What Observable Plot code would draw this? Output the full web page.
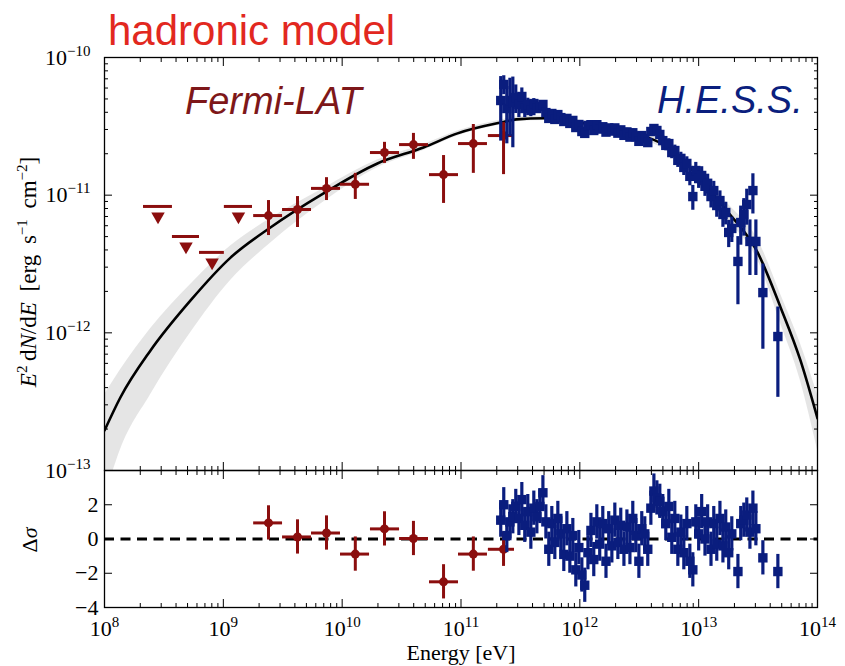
<!DOCTYPE html>
<html>
<head>
<meta charset="utf-8">
<script src="https://cdn.jsdelivr.net/npm/d3@7"></script>
<script src="https://cdn.jsdelivr.net/npm/@observablehq/plot@0.6"></script>
<style>
  html, body { margin: 0; padding: 0; background: #fff; }
  #chart { position: relative; width: 845px; height: 666px; overflow: hidden; background: #fff; }
  #chart svg { position: absolute; left: 0; }
  .ann { position: absolute; white-space: nowrap; line-height: 1; }
  .title { left: 108px; top: 7px; font: 42px "Liberation Sans", Arial, sans-serif; color: #e2281f; }
  .fermi { left: 185px; top: 80px; font: italic 38px "Liberation Sans", Arial, sans-serif; color: #7e1719; }
  .hess { left: 657px; top: 79px; font: italic 38px "Liberation Sans", Arial, sans-serif; color: #0b1f7e; }
  .serif { font-family: "Liberation Serif", "DejaVu Serif", serif; font-size: 22px; color: #000; }
  .ylab { left: 28px; top: 272px; font-size: 23px; word-spacing: 5px; transform: translate(-50%, -50%) rotate(-90deg); }
  .dlab { left: 30px; top: 540px; transform: translate(-50%, -50%) rotate(-90deg); }
  .xlab { left: 461px; top: 642px; transform: translateX(-50%); }
  .serif sup { font-size: 0.65em; vertical-align: 0.55em; line-height: 0; }
</style>
</head>
<body>
<div id="chart">
  <div class="ann title">hadronic model</div>
</div>
<script>
// ---------------- data ----------------
// Fermi-LAT flux points (E in eV, E^2 dN/dE in erg s^-1 cm^-2)
const fermiE   = [2.40e9, 4.21e9, 7.38e9, 1.29e10, 2.27e10, 3.98e10, 7.13e10, 1.27e11, 2.28e11];
const fermiElo = [1.80e9, 3.15e9, 5.52e9, 9.68e9, 1.73e10, 3.04e10, 5.43e10, 9.53e10, 1.70e11];
const fermiEhi = [3.15e9, 5.52e9, 9.68e9, 1.70e10, 3.04e10, 5.33e10, 9.53e10, 1.67e11, 2.82e11];
const fermiF   = [7.11e-12, 7.87e-12, 1.12e-11, 1.20e-11, 2.04e-11, 2.33e-11, 1.41e-11, 2.37e-11, 2.71e-11];
const fermiFlo = [5.09e-12, 5.82e-12, 9.14e-12, 9.31e-12, 1.70e-11, 1.82e-11, 8.71e-12, 1.44e-11, 1.41e-11];
const fermiFhi = [9.14e-12, 9.77e-12, 1.34e-11, 1.44e-11, 2.42e-11, 2.81e-11, 1.94e-11, 3.26e-11, 3.37e-11];
const fermiRes = [0.94, 0.12, 0.35, -0.88, 0.59, 0.03, -2.5, -0.88, -0.6];

// Fermi-LAT upper limits
const ulE   = [2.82e8, 4.85e8, 8.04e8, 1.34e9];
const ulElo = [2.13e8, 3.73e8, 6.30e8, 1.02e9];
const ulEhi = [3.73e8, 6.30e8, 1.02e9, 1.76e9];
const ulF   = [8.28e-12, 5.01e-12, 3.84e-12, 8.28e-12];

// H.E.S.S. flux points
const hessE = [
  2.16e11, 2.29e11, 2.43e11, 2.58e11, 2.73e11, 2.89e11, 3.07e11, 3.25e11, 3.44e11, 3.65e11,
  3.87e11, 4.10e11, 4.35e11, 4.61e11, 4.89e11, 5.18e11, 5.48e11, 5.81e11, 6.16e11, 6.53e11,
  6.92e11, 7.33e11, 7.78e11, 8.24e11, 8.73e11, 9.25e11, 9.81e11, 1.04e12, 1.10e12, 1.17e12,
  1.24e12, 1.31e12, 1.39e12, 1.47e12, 1.56e12, 1.66e12, 1.75e12, 1.86e12, 1.97e12, 2.09e12,
  2.21e12, 2.35e12, 2.49e12, 2.64e12, 2.79e12, 2.96e12, 3.14e12, 3.32e12, 3.52e12, 3.73e12,
  3.96e12, 4.20e12, 4.45e12, 4.71e12, 4.99e12, 5.29e12, 5.61e12, 5.94e12, 6.30e12, 6.68e12,
  7.08e12, 7.50e12, 7.95e12, 8.43e12, 8.93e12, 9.46e12, 1.00e13, 1.06e13, 1.13e13, 1.19e13,
  1.27e13, 1.34e13, 1.42e13, 1.51e13, 1.60e13, 1.69e13, 1.79e13, 1.90e13, 2.14e13, 2.26e13,
  2.40e13, 2.54e13, 2.70e13, 2.86e13, 3.03e13, 3.47e13, 4.64e13];
const hessF = [
  4.87e-11, 6.37e-11, 4.26e-11, 4.87e-11, 4.71e-11, 5.12e-11, 4.56e-11, 5.21e-11, 4.26e-11, 4.56e-11,
  4.12e-11, 4.63e-11, 4.26e-11, 4.41e-11, 4.56e-11, 3.98e-11, 3.61e-11, 3.92e-11, 3.55e-11, 3.85e-11,
  3.66e-11, 3.43e-11, 3.61e-11, 3.32e-11, 3.49e-11, 3.10e-11, 3.26e-11, 2.90e-11, 2.81e-11, 3.21e-11,
  3.25e-11, 2.95e-11, 3.25e-11, 3.02e-11, 3.14e-11, 2.87e-11, 3.08e-11, 2.92e-11, 3.08e-11, 2.82e-11,
  2.98e-11, 2.72e-11, 2.88e-11, 2.64e-11, 2.84e-11, 2.66e-11, 2.46e-11, 2.71e-11, 2.58e-11, 2.41e-11,
  2.90e-11, 3.05e-11, 2.95e-11, 2.76e-11, 2.49e-11, 2.30e-11, 2.37e-11, 2.04e-11, 2.11e-11, 1.79e-11,
  1.85e-11, 1.59e-11, 1.70e-11, 1.37e-11, 9.77e-12, 1.51e-11, 1.32e-11, 1.39e-11, 1.16e-11, 1.22e-11,
  9.77e-12, 1.08e-11, 8.41e-12, 9.14e-12, 7.24e-12, 7.48e-12, 5.36e-12, 5.73e-12, 3.30e-12, 6.33e-12,
  7.24e-12, 8.55e-12, 4.61e-12, 1.08e-11, 4.61e-12, 1.96e-12, 9.4e-13];
const hessErr = [
  2.4e-11, 1.0e-11, 1.9e-11, 2.2e-11, 2.5e-11, 1.2e-11, 9e-12, 8e-12, 6e-12, 5e-12,
  4e-12, 4e-12, 3e-12, 3e-12, 3e-12, 2.5e-12, 2e-12, 2e-12, 2e-12, 2e-12,
  1.9e-12, 1.9e-12, 1.9e-12, 1.8e-12, 1.8e-12, 1.8e-12, 1.8e-12, 1.8e-12, 1.8e-12, 1.8e-12,
  1.8e-12, 1.8e-12, 1.8e-12, 1.8e-12, 1.8e-12, 1.8e-12, 1.8e-12, 1.8e-12, 1.8e-12, 1.8e-12,
  1.8e-12, 1.8e-12, 1.8e-12, 1.8e-12, 1.8e-12, 1.8e-12, 1.8e-12, 1.8e-12, 1.8e-12, 1.8e-12,
  2e-12, 2e-12, 2e-12, 2e-12, 2e-12, 2e-12, 2e-12, 2e-12, 2e-12, 2e-12,
  2e-12, 2e-12, 2e-12, 2e-12, 2e-12, 2.2e-12, 2e-12, 2.2e-12, 1.8e-12, 2e-12,
  1.7e-12, 1.8e-12, 1.5e-12, 1.6e-12, 1.4e-12, 1.4e-12, 1.2e-12, 1.2e-12, 1.7e-12, 2e-12,
  2.2e-12, 2.5e-12, 2e-12, 3.5e-12, 2e-12, 1.2e-12, 6e-13];
const hessRes = [
  1.1, 2.0, 0.2, 1.0, 1.3, 1.9, 1.2, 2.3, 0.8, 1.6,
  0.4, 1.8, 1.3, 1.9, 2.7, 1.0, -0.6, 0.9, -0.2, 1.2,
  0.3, -0.9, 0.6, -1.0, 0.2, -1.8, -0.5, -2.1, -2.7, -0.8,
  0.5, -1.2, 1.0, -0.3, 0.9, -1.3, 0.6, -0.4, 1.1, -0.2,
  0.8, -0.6, 0.7, -0.5, 1.2, 0.2, -1.3, 0.6, 0.3, -0.6,
  1.8, 2.8, 2.4, 2.2, 1.6, 0.9, 1.9, 0.1, 1.2, -0.6,
  0.4, -0.8, 0.9, -1.3, -1.8, 1.0, 0.3, 1.6, 0.0, 1.0,
  -0.6, 0.9, -0.3, 1.2, -0.4, 0.7, -0.8, 0.3, -1.9, 0.9,
  1.1, 1.4, 0.4, 1.8, 0.6, -1.1, -1.9];
const residualError = 1;

// hadronic model: best fit and spread of posterior curves
const modelE  = [1e8, 1.36e8, 2.44e8, 5.30e8, 1.15e9, 2.49e9, 6.97e9, 1.98e10, 4.83e10, 9.35e10, 2.28e11, 2.93e11,
                 5.0e11, 1e12, 3e12, 5e12, 7e12, 1e13, 1.75e13, 3.13e13, 4.89e13, 7.19e13, 1e14];
const modelF  = [1.95e-13, 3.39e-13, 7.45e-13, 1.72e-12, 3.52e-12, 5.82e-12, 1.03e-11, 1.70e-11, 2.22e-11, 2.81e-11, 3.40e-11, 3.55e-11,
                 3.62e-11, 3.36e-11, 2.80e-11, 2.34e-11, 1.90e-11, 1.35e-11, 7.6e-12, 3.84e-12, 1.53e-12, 6.30e-13, 2.39e-13];
const bandHi  = [3.55e-13, 5.37e-13, 1.07e-12, 2.24e-12, 4.27e-12, 6.76e-12, 1.12e-11, 1.80e-11, 2.32e-11, 2.92e-11, 3.55e-11, 3.70e-11,
                 3.76e-11, 3.52e-11, 2.95e-11, 2.50e-11, 2.04e-11, 1.48e-11, 8.71e-12, 4.79e-12, 1.91e-12, 8.32e-13, 3.55e-13];
const bandLo  = [6.3e-14, 1.41e-13, 3.55e-13, 1.0e-12, 2.40e-12, 4.47e-12, 8.91e-12, 1.58e-11, 2.11e-11, 2.69e-11, 3.27e-11, 3.42e-11,
                 3.48e-11, 3.21e-11, 2.63e-11, 2.18e-11, 1.76e-11, 1.20e-11, 6.61e-12, 3.39e-12, 1.17e-12, 4.47e-13, 1.41e-13];

// axes
const xDomain = [1e8, 1e14];
const yDomain = [1e-13, 1e-10];
const resDomain = [-4, 4];
const xMajor = [1e8, 1e9, 1e10, 1e11, 1e12, 1e13, 1e14];
const yMajor = [1e-13, 1e-12, 1e-11, 1e-10];
const resTicks = [-4, -2, 0, 2, 4];
const resLabels = [-4, -2, 0, 2];
const zeroLine = [0];

// ---------------- build ----------------
const red = "#8b0e0e", blue = "#0a1d7e";
const fermi = fermiE.map((E, i) => ({E, Elo: fermiElo[i], Ehi: fermiEhi[i], F: fermiF[i], Flo: fermiFlo[i], Fhi: fermiFhi[i],
  res: fermiRes[i], rlo: fermiRes[i] - residualError, rhi: fermiRes[i] + residualError}));
const uls = ulE.map((E, i) => ({E, Elo: ulElo[i], Ehi: ulEhi[i], F: ulF[i]}));
const hess = hessE.map((E, i) => ({E, F: hessF[i], Flo: hessF[i] - hessErr[i], Fhi: hessF[i] + hessErr[i],
  res: hessRes[i], rlo: hessRes[i] - residualError, rhi: hessRes[i] + residualError}));
const model = modelE.map((E, i) => ({E, F: modelF[i], lo: bandLo[i], hi: bandHi[i]}));

const minorOf = decades => decades.slice(0, -1).flatMap(d => [2, 3, 4, 5, 6, 7, 8, 9].map(k => k * d));
const xMinor = minorOf(xMajor);
const yMinor = minorOf(yMajor);

const supFmt = d => "10^" + Math.round(Math.log10(d));
const minusFmt = d => d < 0 ? "\u2212" + (-d) : String(d);

function inwardTicks(k, major, minor) {
  const A = k === "x" ? Plot.axisX : Plot.axisY;
  const anchors = k === "x" ? ["top", "bottom"] : ["left", "right"];
  const out = [];
  for (const a of anchors) {
    const sign = (a === "bottom" || a === "right") ? -1 : 1;
    for (const [vals, len] of [[major, 8], [minor, 4]]) {
      if (!vals.length) continue;
      const o = {anchor: a, tickSize: len, fill: "none", label: null, stroke: "#000", strokeWidth: 1};
      if (k === "x") o.dy = sign * len; else o.dx = sign * len;
      out.push(A(vals, o));
    }
  }
  return out;
}

function supify(svg) {
  svg.querySelectorAll("text").forEach(t => {
    const s = t.textContent;
    if (!s.includes("^")) return;
    const [b, e] = s.split("^");
    t.textContent = b;
    const ts = document.createElementNS("http://www.w3.org/2000/svg", "tspan");
    ts.setAttribute("dy", "-9");
    ts.setAttribute("font-size", "15");
    ts.textContent = e.replace("-", "\u2212");
    t.appendChild(ts);
  });
}

const common = {
  width: 845, marginLeft: 104, marginRight: 28,
  style: {fontFamily: "'Liberation Serif', 'DejaVu Serif', serif", fontSize: "22px", background: "transparent", color: "#000", overflow: "visible"}
};

const sq = 5.3;   // H.E.S.S. square marker radius
const topPlot = Plot.plot({
  ...common,
  height: 471, marginTop: 57, marginBottom: 1,
  x: {type: "log", domain: xDomain, axis: null},
  y: {type: "log", domain: yDomain, axis: null},
  marks: [
    Plot.areaY(model, {x: "E", y1: "lo", y2: "hi", fill: "#8a8a8a", fillOpacity: 0.22, curve: "monotone-x", clip: true}),
    Plot.line(model, {x: "E", y: "F", stroke: "#000", strokeWidth: 2.6, curve: "monotone-x", clip: true}),
    // Fermi upper limits
    Plot.ruleY(uls, {x1: "Elo", x2: "Ehi", y: "F", stroke: red, strokeWidth: 3}),
    Plot.dot(uls, {x: "E", y: "F", symbol: "triangle", rotate: 180, r: 5, fill: red, dy: 10}),
    // Fermi points
    Plot.ruleY(fermi, {x1: "Elo", x2: "Ehi", y: "F", stroke: red, strokeWidth: 3}),
    Plot.ruleX(fermi, {x: "E", y1: "Flo", y2: "Fhi", stroke: red, strokeWidth: 3}),
    Plot.dot(fermi, {x: "E", y: "F", r: 4.5, fill: red}),
    // H.E.S.S. points
    Plot.ruleX(hess, {x: "E", y1: "Flo", y2: "Fhi", stroke: blue, strokeWidth: 3.2}),
    Plot.dot(hess, {x: "E", y: "F", symbol: "square", r: sq, fill: blue}),
    Plot.frame({stroke: "#000", strokeWidth: 1.3}),
    ...inwardTicks("x", xMajor, xMinor),
    ...inwardTicks("y", yMajor, yMinor),
    Plot.axisY(yMajor, {anchor: "left", tickSize: 0, tickPadding: 14, tickFormat: supFmt, fontSize: 22, label: null, fill: "#000"})
  ]
});
supify(topPlot);
topPlot.style.top = "0px";

const bottomPlot = Plot.plot({
  ...common,
  height: 196, marginTop: 0, marginBottom: 59,
  x: {type: "log", domain: xDomain, axis: null},
  y: {domain: resDomain, axis: null},
  marks: [
    Plot.ruleY(zeroLine, {stroke: "#000", strokeWidth: 3, strokeDasharray: "10,6.5"}),
    Plot.ruleY(fermi, {x1: "Elo", x2: "Ehi", y: "res", stroke: red, strokeWidth: 3}),
    Plot.ruleX(fermi, {x: "E", y1: "rlo", y2: "rhi", stroke: red, strokeWidth: 3}),
    Plot.dot(fermi, {x: "E", y: "res", r: 4.5, fill: red}),
    Plot.ruleX(hess, {x: "E", y1: "rlo", y2: "rhi", stroke: blue, strokeWidth: 3.2}),
    Plot.dot(hess, {x: "E", y: "res", symbol: "square", r: sq, fill: blue}),
    Plot.frame({stroke: "#000", strokeWidth: 1.3}),
    ...inwardTicks("x", xMajor, xMinor),
    ...inwardTicks("y", resTicks, []),
    Plot.axisX(xMajor, {anchor: "bottom", tickSize: 0, tickPadding: 13, tickFormat: supFmt, fontSize: 22, label: null, fill: "#000"}),
    Plot.axisY(resLabels, {anchor: "left", tickSize: 0, tickPadding: 6, tickFormat: minusFmt, fontSize: 22, label: null, fill: "#000"})
  ]
});
supify(bottomPlot);
bottomPlot.style.top = "470px";

const chart = document.getElementById("chart");
chart.appendChild(topPlot);
chart.appendChild(bottomPlot);

function addAnn(cls, html) {
  const d = document.createElement("div");
  d.className = "ann " + cls;
  d.innerHTML = html;
  chart.appendChild(d);
}
addAnn("fermi", "Fermi-LAT");
addAnn("hess", "H.E.S.S.");
addAnn("serif ylab", "<i>E</i><sup>2</sup>&thinsp;d<i>N</i>/d<i>E</i> [erg s<sup>\u22121</sup> cm<sup>\u22122</sup>]");
addAnn("serif dlab", "\u0394<i>\u03c3</i>");
addAnn("serif xlab", "Energy [eV]");
</script>
</body>
</html>
